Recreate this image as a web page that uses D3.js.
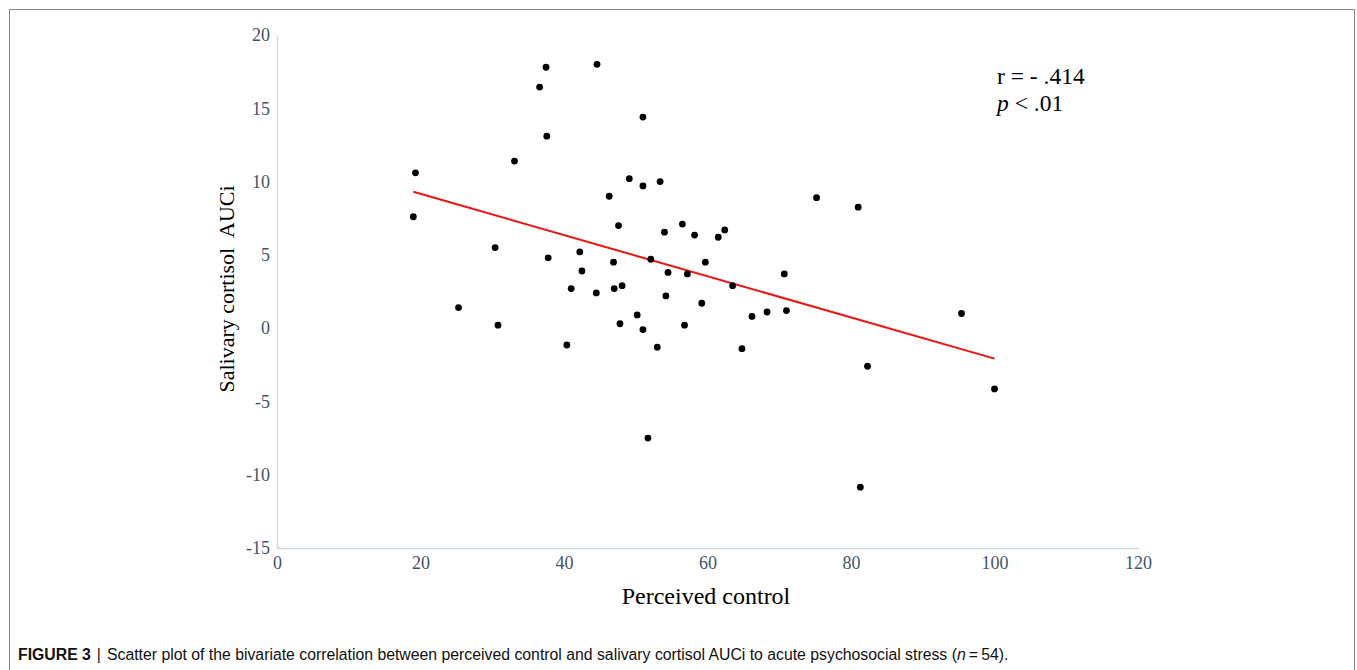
<!DOCTYPE html>
<html>
<head>
<meta charset="utf-8">
<script src="https://cdn.jsdelivr.net/npm/d3@7"></script>
<style>
  body { margin: 0; background: #fff; }
  svg { display: block; }
</style>
</head>
<body>
<div id="chart"></div>
<script>
// data
const perceivedControl = [19.3, 19.0, 25.3, 30.4, 30.8, 33.1, 36.6, 37.5, 37.6, 37.8,
  40.4, 41.0, 42.2, 42.5, 44.5, 44.6, 46.3, 46.9, 47.0, 47.6,
  47.8, 48.1, 49.1, 50.2, 51.0, 51.0, 51.0, 51.7, 52.1, 53.0,
  53.4, 54.0, 54.2, 54.5, 56.5, 56.8, 57.2, 58.2, 59.2, 59.7,
  61.5, 62.4, 63.5, 64.8, 66.2, 68.3, 70.7, 71.0, 75.2, 81.0,
  81.3, 82.3, 95.4, 100.0];
const cortisolAUCi = [10.6, 7.6, 1.4, 5.5, 0.2, 11.4, 16.45, 17.8, 13.1, 4.8,
  -1.15, 2.7, 5.2, 3.9, 2.4, 18.0, 9.0, 4.5, 2.7, 7.0,
  0.3, 2.9, 10.2, 0.9, 14.4, 9.7, -0.1, -7.5, 4.7, -1.3,
  10.0, 6.55, 2.2, 3.8, 7.1, 0.2, 3.7, 6.35, 1.7, 4.5,
  6.2, 6.7, 2.9, -1.4, 0.8, 1.1, 3.7, 1.2, 8.9, 8.25,
  -10.85, -2.6, 1.0, -4.15];
const trendX = [19, 100];
const trendY = [9.3, -2.08];
const xTicks = [0, 20, 40, 60, 80, 100, 120];
const yTicks = [-15, -10, -5, 0, 5, 10, 15, 20];

const W = 1357, H = 670;
const serif = "'Liberation Serif', 'Times New Roman', serif";

const svg = d3.select("#chart").append("svg")
  .attr("width", W)
  .attr("height", H);

// figure frame (bottom edge runs off the page)
svg.append("rect")
  .attr("x", 9.5).attr("y", 9.5)
  .attr("width", 1345).attr("height", 720)
  .attr("fill", "none")
  .attr("stroke", "#8a8a8a")
  .attr("stroke-width", 1);

const x = d3.scaleLinear().domain([0, 120]).range([277, 1138]);
const y = d3.scaleLinear().domain([-15, 20]).range([548, 35]);

// axes, plain hyphen for negatives like the original
const fmt = d => String(d);
const xAxis = svg.append("g")
  .attr("transform", `translate(0,${y(-15)})`)
  .call(d3.axisBottom(x).tickValues(xTicks).tickFormat(fmt).tickSize(0).tickPadding(8));
const yAxis = svg.append("g")
  .attr("transform", `translate(${x(0)},0)`)
  .call(d3.axisLeft(y).tickValues(yTicks).tickFormat(fmt).tickSize(0).tickPadding(7));

[xAxis, yAxis].forEach(g => {
  g.select(".domain").attr("stroke", "#cdd5df").attr("stroke-width", 1.3);
  g.selectAll("text")
    .attr("fill", "#44546a")
    .style("font-family", serif)
    .style("font-size", "18px");
});

// axis titles
svg.append("text")
  .attr("x", 706).attr("y", 604)
  .attr("text-anchor", "middle")
  .style("font-family", serif)
  .style("font-size", "24px")
  .text("Perceived control");

svg.append("text")
  .attr("transform", `translate(234,289) rotate(-90)`)
  .attr("text-anchor", "middle")
  .style("font-family", serif)
  .style("font-size", "22px")
  .style("white-space", "pre")
  .attr("xml:space", "preserve")
  .text("Salivary cortisol  AUCi");

// regression line
const trend = trendX.map((v, i) => ({x: v, y: trendY[i]}));
svg.append("path")
  .datum(trend)
  .attr("d", d3.line().x(d => x(d.x)).y(d => y(d.y)))
  .attr("stroke", "#ee1111")
  .attr("stroke-width", 2)
  .attr("fill", "none");

// points
const points = perceivedControl.map((v, i) => ({x: v, y: cortisolAUCi[i]}));
svg.selectAll(".dot")
  .data(points)
  .enter()
  .append("circle")
  .attr("class", "dot")
  .attr("cx", d => x(d.x))
  .attr("cy", d => y(d.y))
  .attr("r", 3.4)
  .attr("fill", "black");

// stats annotation
svg.append("text")
  .attr("x", 997).attr("y", 84)
  .style("font-family", serif)
  .style("font-size", "23.5px")
  .text("r = - .414");
const p = svg.append("text")
  .attr("x", 997).attr("y", 111)
  .style("font-family", serif)
  .style("font-size", "23.5px");
p.append("tspan").style("font-style", "italic").text("p");
p.append("tspan").text(" < .01");

// caption
const cap = svg.append("text")
  .attr("x", 18).attr("y", 660)
  .style("font-family", "'Liberation Sans', Arial, sans-serif")
  .style("font-size", "15.8px")
  .attr("fill", "#111");
cap.append("tspan").style("font-weight", "bold").text("FIGURE 3");
cap.append("tspan").attr("dx", 6).text("|");
cap.append("tspan").attr("dx", 6).text("Scatter plot of the bivariate correlation between perceived control and salivary cortisol AUCi to acute psychosocial stress (");
cap.append("tspan").style("font-style", "italic").text("n");
cap.append("tspan").text("\u2009=\u200954).");
</script>
</body>
</html>
